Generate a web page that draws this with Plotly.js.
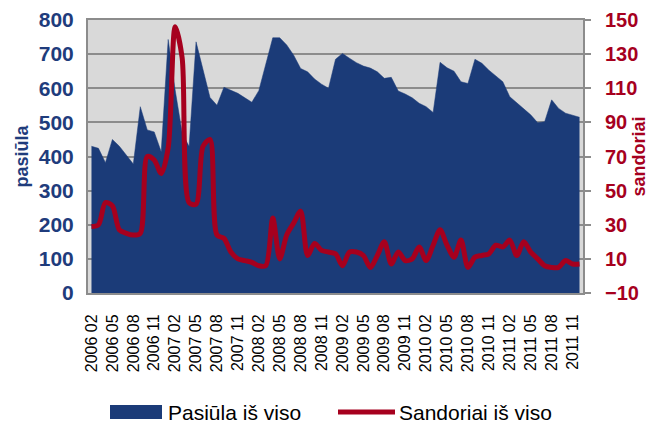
<!DOCTYPE html>
<html>
<head>
<meta charset="utf-8">
<script src="https://cdn.plot.ly/plotly-3.0.1.min.js"></script>
<style>
  html, body { margin: 0; padding: 0; background: #ffffff; }
  #chart { width: 649px; height: 425px; }
</style>
</head>
<body>
<div id="chart"></div>
<script>
// Months (categories)
const months = [
  "2006 02","2006 03","2006 04","2006 05","2006 06","2006 07","2006 08","2006 09","2006 10","2006 11","2006 12",
  "2007 01","2007 02","2007 03","2007 04","2007 05","2007 06","2007 07","2007 08","2007 09","2007 10","2007 11","2007 12",
  "2008 01","2008 02","2008 03","2008 04","2008 05","2008 06","2008 07","2008 08","2008 09","2008 10","2008 11","2008 12",
  "2009 01","2009 02","2009 03","2009 04","2009 05","2009 06","2009 07","2009 08","2009 09","2009 10","2009 11","2009 12",
  "2010 01","2010 02","2010 03","2010 04","2010 05","2010 06","2010 07","2010 08","2010 09","2010 10","2010 11","2010 12",
  "2011 01","2011 02","2011 03","2011 04","2011 05","2011 06","2011 07","2011 08","2011 09","2011 10","2011 11","2011 12"
];

// Pasiūla iš viso (left axis)
const pasiula = [
  430,424,382,450,430,405,378,546,478,472,414,
  743,595,470,429,736,658,573,550,603,594,585,572,
  559,593,670,748,748,727,697,658,648,627,612,600,
  685,702,688,675,665,659,648,629,632,592,583,572,
  556,546,529,676,660,650,619,614,685,673,653,636,
  619,575,558,540,522,499,502,566,541,527,521,515
];

// Sandoriai iš viso (right axis)
const sandoriai = [
  29,30,43,41,27,25,24,25,70,68,60,
  75,146,128,43,42,76,80,24,22,14,10,9,
  8,6,6,34,10,24,31,38,12,19,15,14,
  13,6,14,14,12,5,12,20,7,14,9,10,
  17,9,18,27,18,11,21,5,11,12,13,18,
  17,21,12,20,14,10,6,5,5,9,7,7
];

// Tick labels (every third month)
const tickLabels = [
  "2006 02","2006 05","2006 08","2006 11",
  "2007 02","2007 05","2007 08","2007 11",
  "2008 02","2008 05","2008 08","2008 11",
  "2009 02","2009 05","2009 08","2009 11",
  "2010 02","2010 05","2010 08","2010 11",
  "2011 02","2011 05","2011 08","2011 11"
];

const seriesNames = ["Pasiūla iš viso", "Sandoriai iš viso"];

const BLUE = "#1b3b78";
const BLUE_TXT = "#1f3c7c";
const RED = "#a6001e";
const GRID = "#8c8c8c";
const FONT = "Liberation Sans, Arial, sans-serif";

const traces = [
  {
    type: "scatter",
    mode: "lines",
    name: seriesNames[0],
    x: months,
    y: pasiula,
    fill: "tozeroy",
    fillcolor: BLUE,
    line: { color: BLUE, width: 0.5 },
    yaxis: "y",
    showlegend: false,
    hoverinfo: "x+y"
  },
  {
    type: "scatter",
    mode: "lines",
    name: seriesNames[1],
    x: months,
    y: sandoriai,
    line: { color: RED, width: 5, shape: "spline", smoothing: 0.8 },
    yaxis: "y2",
    showlegend: false,
    hoverinfo: "x+y"
  }
];

const layout = {
  width: 649,
  height: 425,
  margin: { l: 88, r: 66, t: 20, b: 132, pad: 0 },
  paper_bgcolor: "#ffffff",
  plot_bgcolor: "#d9d9d9",
  font: { family: FONT, color: "#000000" },
  showlegend: false,
  xaxis: {
    type: "category",
    range: [-0.5, months.length - 0.5],
    tickmode: "array",
    tickvals: tickLabels,
    ticktext: tickLabels,
    tickangle: -90,
    tickfont: { family: FONT, size: 16, color: "#000000" },
    ticks: "",
    ticklabelstandoff: 13,
    showgrid: false,
    showline: true,
    linecolor: GRID,
    linewidth: 2,
    mirror: true,
    zeroline: false,
    fixedrange: true
  },
  yaxis: {
    range: [0, 800],
    tick0: 0,
    dtick: 100,
    tickfont: { family: FONT, size: 21, color: BLUE_TXT, weight: "bold" },
    showgrid: true,
    gridcolor: GRID,
    gridwidth: 2,
    showline: true,
    linecolor: GRID,
    linewidth: 2,
    zeroline: false,
    ticks: "",
    ticklabelstandoff: 8,
    title: {
      text: "pasiūla",
      font: { family: FONT, size: 18, color: BLUE_TXT, weight: "bold" },
      standoff: 5
    },
    fixedrange: true
  },
  yaxis2: {
    overlaying: "y",
    side: "right",
    range: [-10, 150],
    tick0: -10,
    dtick: 20,
    tickfont: { family: FONT, size: 20, color: RED, weight: "bold" },
    showgrid: false,
    showline: true,
    linecolor: GRID,
    linewidth: 2,
    zeroline: false,
    ticks: "outside",
    ticklen: 6,
    tickwidth: 2,
    tickcolor: GRID,
    ticklabelstandoff: 10,
    title: {
      text: "sandoriai",
      font: { family: FONT, size: 18, color: RED, weight: "bold" },
      standoff: 4
    },
    fixedrange: true
  },
  shapes: [
    { type: "rect", xref: "paper", yref: "paper",
      x0: (110 - 88) / 495, x1: (162 - 88) / 495,
      y0: -(405 - 293) / 273, y1: -(419 - 293) / 273,
      fillcolor: BLUE, line: { width: 0 } },
    { type: "line", xref: "paper", yref: "paper",
      x0: (338 - 88) / 495, x1: (395 - 88) / 495,
      y0: -(412 - 293) / 273, y1: -(412 - 293) / 273,
      line: { color: RED, width: 5 } }
  ],
  annotations: [
    { xref: "paper", yref: "paper", x: (166 - 88) / 495, y: -(412 - 293) / 273,
      xanchor: "left", yanchor: "middle", showarrow: false,
      text: seriesNames[0], font: { family: FONT, size: 21, color: "#000000" } },
    { xref: "paper", yref: "paper", x: (397 - 88) / 495, y: -(412 - 293) / 273,
      xanchor: "left", yanchor: "middle", showarrow: false,
      text: seriesNames[1], font: { family: FONT, size: 21, color: "#000000" } }
  ]
};

Plotly.newPlot("chart", traces, layout, { displayModeBar: false, staticPlot: true });
</script>
</body>
</html>
